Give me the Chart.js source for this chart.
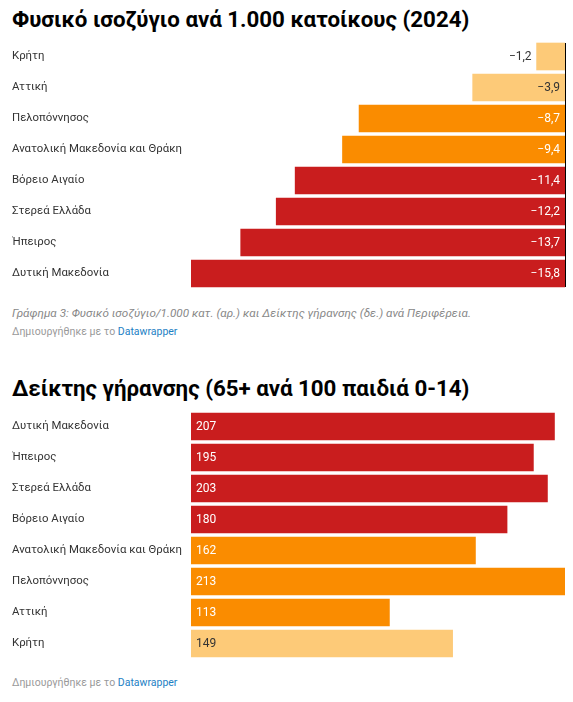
<!DOCTYPE html>
<html>
<head>
<meta charset="utf-8">
<script src="https://cdn.jsdelivr.net/npm/chart.js@4"></script>
<style>
  body { margin: 0; background: #fff; font-family: Roboto, sans-serif; }
  .wrap { position: relative; width: 573px; height: 702px; }
  .title { position: absolute; left: 12px; font-size: 22.3px; font-weight: 700; color: #000; line-height: 26px; white-space: nowrap; }
  .note { position: absolute; left: 12px; font-size: 11.7px; font-style: italic; color: #888; line-height: 16px; white-space: nowrap; }
  .credit { position: absolute; left: 12px; font-size: 10.5px; color: #999; line-height: 14px; white-space: nowrap; }
  .credit span { color: #1d81c4; }
  .box { position: absolute; left: 0; width: 573px; height: 248px; }
</style>
</head>
<body>
<div class="wrap">
  <div class="title" style="top:6px">Φυσικό ισοζύγιο ανά 1.000 κατοίκους (2024)</div>
  <div class="box" style="top:41px"><canvas id="chart1"></canvas></div>
  <div class="note" style="top:305px">Γράφημα 3: Φυσικό ισοζύγιο/1.000 κατ. (αρ.) και Δείκτης γήρανσης (δε.) ανά Περιφέρεια.</div>
  <div class="credit" style="top:325px">Δημιουργήθηκε με το <span>Datawrapper</span></div>

  <div class="title" style="top:375px">Δείκτης γήρανσης (65+ ανά 100 παιδιά 0-14)</div>
  <div class="box" style="top:411px"><canvas id="chart2"></canvas></div>
  <div class="credit" style="top:676px">Δημιουργήθηκε με το <span>Datawrapper</span></div>
</div>
<script>
var RED = '#c91d1e', ORANGE = '#fa8c00', LIGHT = '#fdca78';

// Φυσικό ισοζύγιο
var balanceRegions = ['Κρήτη', 'Αττική', 'Πελοπόννησος', 'Ανατολική Μακεδονία και Θράκη',
  'Βόρειο Αιγαίο', 'Στερεά Ελλάδα', 'Ήπειρος', 'Δυτική Μακεδονία'];
var balanceValues = [-1.2, -3.9, -8.7, -9.4, -11.4, -12.2, -13.7, -15.8];
var balanceColors = [LIGHT, LIGHT, ORANGE, ORANGE, RED, RED, RED, RED];

// Δείκτης γήρανσης
var ageingRegions = ['Δυτική Μακεδονία', 'Ήπειρος', 'Στερεά Ελλάδα', 'Βόρειο Αιγαίο',
  'Ανατολική Μακεδονία και Θράκη', 'Πελοπόννησος', 'Αττική', 'Κρήτη'];
var ageingValues = [207, 195, 203, 180, 162, 213, 113, 149];
var ageingColors = [RED, RED, RED, RED, ORANGE, ORANGE, ORANGE, LIGHT];

Chart.defaults.font.family = 'Roboto, sans-serif';
Chart.defaults.animation = false;

function fmt(v) {
  var s = Math.abs(v) % 1 === 0 ? String(Math.abs(v)) : Math.abs(v).toFixed(1).replace('.', ',');
  return (v < 0 ? '\u2212' : '') + s;
}

var valueLabels = {
  id: 'valueLabels',
  afterDatasetsDraw: function(chart) {
    var ctx = chart.ctx;
    var ds = chart.data.datasets[0];
    var meta = chart.getDatasetMeta(0);
    var xs = chart.scales.x;
    var zero = xs.getPixelForValue(0);
    ctx.save();
    ctx.font = '12px Roboto, sans-serif';
    ctx.textBaseline = 'middle';
    meta.data.forEach(function(bar, i) {
      var v = ds.data[i];
      var txt = fmt(v);
      var w = ctx.measureText(txt).width;
      var dark = ds.backgroundColor[i] === LIGHT;
      if (v < 0) {
        ctx.textAlign = 'right';
        if (zero - bar.x > w + 10) {
          ctx.fillStyle = dark ? '#333' : '#fff';
          ctx.fillText(txt, zero - 5, bar.y);
        } else {
          ctx.fillStyle = '#333';
          ctx.fillText(txt, bar.x - 5, bar.y);
        }
      } else {
        ctx.textAlign = 'left';
        ctx.fillStyle = dark ? '#333' : '#fff';
        ctx.fillText(txt, zero + 5, bar.y);
      }
    });
    if (chart.options.plugins.valueLabels.zeroLine) {
      ctx.strokeStyle = '#000';
      ctx.lineWidth = 1;
      ctx.beginPath();
      ctx.moveTo(Math.round(zero) + 0.5, chart.chartArea.top + 2);
      ctx.lineTo(Math.round(zero) + 0.5, chart.chartArea.bottom - 2);
      ctx.stroke();
    }
    ctx.restore();
  }
};

function makeChart(id, labels, values, colors, min, max, zeroLine) {
  return new Chart(document.getElementById(id), {
    type: 'bar',
    data: {
      labels: labels,
      datasets: [{
        data: values,
        backgroundColor: colors,
        barThickness: 27,
        borderWidth: 0
      }]
    },
    options: {
      indexAxis: 'y',
      responsive: true,
      maintainAspectRatio: false,
      layout: { padding: { left: 12, right: 8, top: 0, bottom: 0 } },
      plugins: {
        legend: { display: false },
        tooltip: { enabled: false },
        valueLabels: { zeroLine: zeroLine }
      },
      scales: {
        x: { display: false, min: min, max: max },
        y: {
          grid: { display: false },
          border: { display: false },
          ticks: {
            crossAlign: 'far',
            color: '#333',
            font: { size: 11.4 },
            padding: 0
          },
          afterFit: function(scale) {
            scale.width = 179;
            scale.paddingTop = 0;
            scale.paddingBottom = 0;
          }
        }
      }
    },
    plugins: [valueLabels]
  });
}

makeChart('chart1', balanceRegions, balanceValues, balanceColors, -15.8, 0, true);
makeChart('chart2', ageingRegions, ageingValues, ageingColors, 0, 213, false);
</script>
</body>
</html>
